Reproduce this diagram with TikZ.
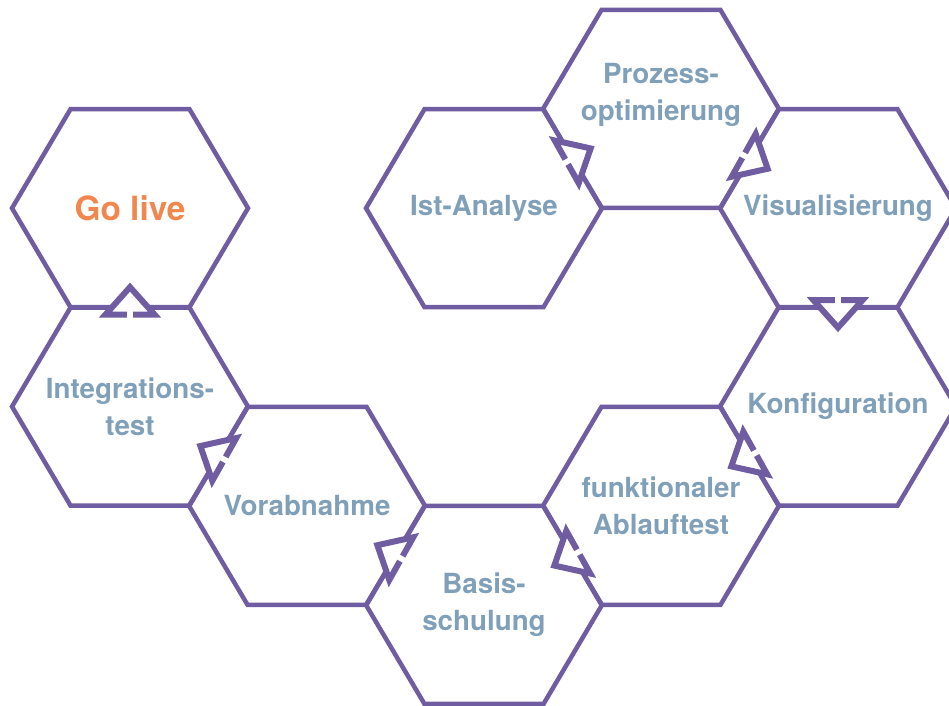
\documentclass[tikz,border=0pt]{standalone}
\usepackage{fontspec}
\setmainfont{TeX Gyre Heros}
\usetikzlibrary{arrows.meta,calc}
\definecolor{hexpurple}{HTML}{705CA0}
\definecolor{steelgray}{HTML}{80A0B9}
\definecolor{liveorange}{HTML}{F0874E}
\tikzset{
  hexline/.style={draw=hexpurple, line width=0.09cm, line join=miter},
  stepname/.style={font=\bfseries\fontsize{15.8}{21}\selectfont, text=steelgray, align=center},
  flowtip/.style={white, line width=0.11cm,
    -{Triangle[color=hexpurple, fill=white, line width=0.12cm, length=0.7cm, width=1.22cm]}},
  flowgap/.style={white, line width=0.11cm},
}
\begin{document}
\begin{tikzpicture}
    \useasboundingbox (0,0) rectangle (18.98,14.12);
    % Waben (Mittelpunkte)
    \foreach \n/\x/\y in {prozess/13.22/11.94, ist/9.68/9.956, visual/16.76/9.956,
                          golive/2.6/9.956, integ/2.6/5.988, konf/16.76/5.988,
                          vorab/6.14/4.004, funkt/13.22/4.004, basis/9.68/2.02} {
        \coordinate (\n) at (\x,\y);
        \draw[hexline] (\n) +(-2.36,0) -- +(-1.19,1.98) -- +(1.19,1.98) -- +(2.36,0)
            -- +(1.19,-1.98) -- +(-1.19,-1.98) -- cycle;
    }
    % Pfeile zwischen den Waben
    \foreach \a/\b in {ist/prozess, prozess/visual, visual/konf, konf/funkt, funkt/basis,
                       basis/vorab, vorab/integ, integ/golive} {
        \draw[flowtip] ($(\a)!0.4!(\b)$) -- ($(\a)!0.625!(\b)$);
        \draw[flowgap] ($(\a)!0.43!(\b)$) -- ($(\a)!0.555!(\b)$);
    }
    % Beschriftungen
    \node[stepname, text=liveorange, font=\bfseries\fontsize{19}{23}\selectfont] (t-golive) at (golive) {Go live};
    \node[stepname] (t-ist) at (ist) {Ist-Analyse};
    \node[stepname] (t-prozess) at ($(prozess)+(0,0.28)$) {Prozess-\\optimierung};
    \node[stepname] (t-visual) at (visual) {Visualisierung};
    \node[stepname] (t-konf) at (konf) {Konfiguration};
    \node[stepname] (t-funkt) at (funkt) {funktionaler\\Ablauftest};
    \node[stepname] (t-basis) at (basis) {Basis-\\schulung};
    \node[stepname] (t-vorab) at (vorab) {Vorabnahme};
    \node[stepname] (t-integ) at (integ) {Integrations-\\test};
\end{tikzpicture}
\end{document}
